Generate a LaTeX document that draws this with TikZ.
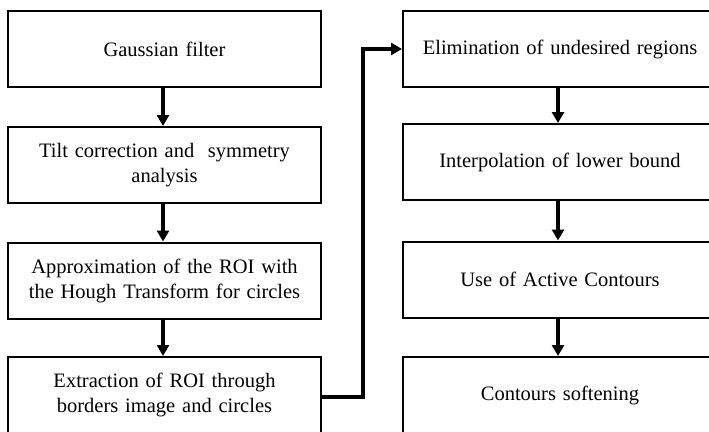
\documentclass[tikz,border=0pt]{standalone}
\usepackage{fontspec}
\setmainfont{Liberation Serif}
\usetikzlibrary{arrows.meta}
\begin{document}
\begin{tikzpicture}[x=1pt,y=1pt,
  box/.style={draw,line width=2pt,rectangle,minimum height=76pt,align=center,
    font=\fontsize{20.5}{25}\selectfont,inner sep=0pt},
  lbox/.style={box,minimum width=313pt,text width=300pt},
  rbox/.style={box,minimum width=314pt,text width=300pt},
  arr/.style={line width=3.2pt,-{Triangle[width=12pt,length=11pt]}}]
\useasboundingbox (0,0) rectangle (709,-431);
\clip (0,0) rectangle (709,-431);
\node[lbox] (b1) at (164.5,-49) {Gaussian filter};
\node[lbox] (b2) at (164.5,-165) {Tilt correction and \ symmetry\\analysis};
\node[lbox] (b3) at (164.5,-280.5) {Approximation of the ROI with\\the Hough Transform for circles};
\node[lbox] (b4) at (164.5,-395) {Extraction of ROI through\\borders image and circles};
\node[rbox] (r1) at (560,-49) {Elimination of undesired regions};
\node[rbox] (r2) at (560,-162) {Interpolation of lower bound};
\node[rbox] (r3) at (560,-279.5) {Use of Active Contours};
\node[rbox] (r4) at (560,-395) {Contours softening};
\coordinate (k) at (363,-397);
\draw[arr] (b1.south -| 163,0) -- (b2.north -| 163,0);
\draw[arr] (b2.south -| 163,0) -- (b3.north -| 163,0);
\draw[arr] (b3.south -| 163,0) -- (b4.north -| 163,0);
\draw[arr] (r1.south -| 558,0) -- (r2.north -| 558,0);
\draw[arr] (r2.south -| 558,0) -- (r3.north -| 558,0);
\draw[arr] (r3.south -| 558,0) -- (r4.north -| 558,0);
\draw[arr] (b4.east |- k) -- (k) |- (r1.west);
\end{tikzpicture}
\end{document}
